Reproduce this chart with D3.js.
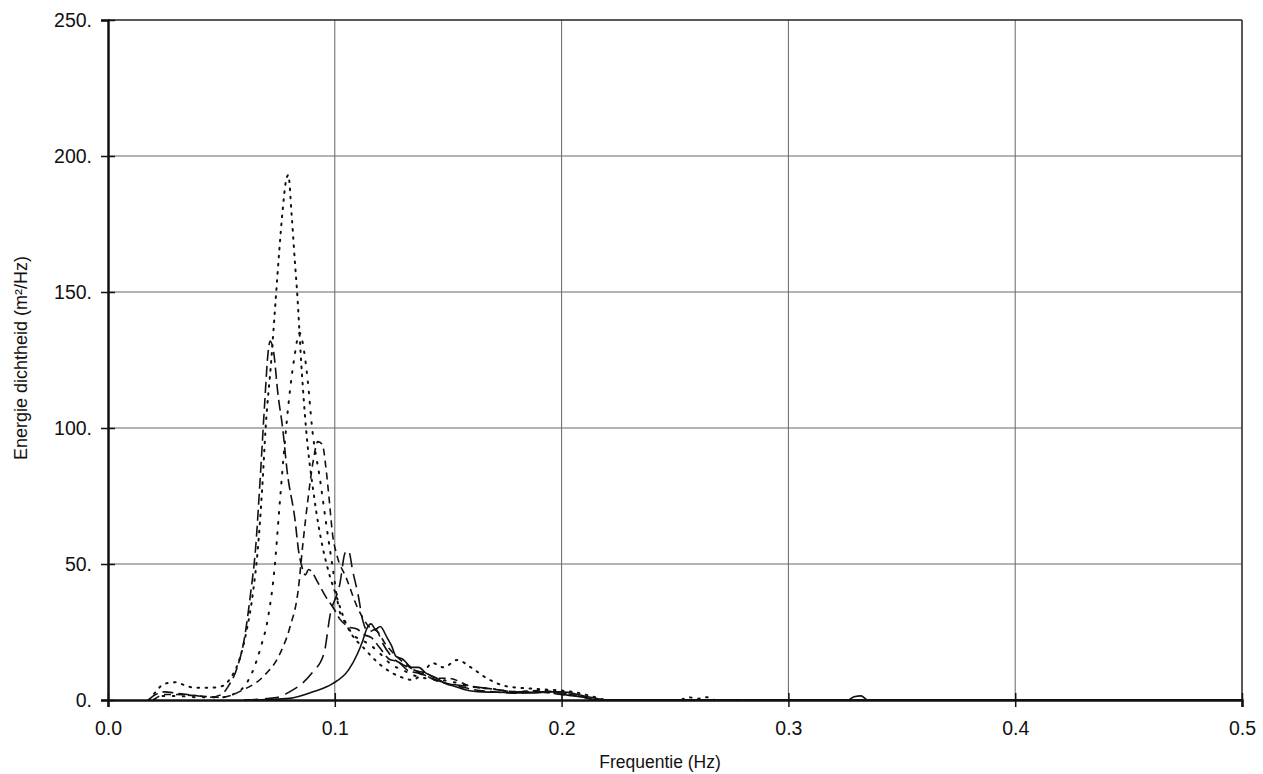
<!DOCTYPE html>
<html>
<head>
<meta charset="utf-8">
<script src="https://cdn.jsdelivr.net/npm/d3@7"></script>
<style>
  body { margin: 0; background: #fff; }
  text { font-family: "Liberation Sans", Arial, sans-serif; fill: #111; }
</style>
</head>
<body>
<div id="chart"></div>
<script>
// tick labels
var xTicks = [0, 0.1, 0.2, 0.3, 0.4, 0.5];
var xTickLabels = ["0.0", "0.1", "0.2", "0.3", "0.4", "0.5"];
var yTicks = [0, 50, 100, 150, 200, 250];
var yTickLabels = ["0.", "50.", "100.", "150.", "200.", "250."];

// spectra, [frequency, energy density]
var specA = [[0.018,0],[0.02,1.5],[0.025,3],[0.03,2.5],[0.035,2],[0.04,1.5],[0.045,1],[0.05,2],[0.053,5],[0.057,12],[0.06,22],[0.063,40],[0.065,55],[0.067,80],[0.069,108],[0.0705,127],[0.0715,132],[0.073,128],[0.075,112],[0.077,100],[0.079,84],[0.0825,66],[0.084,55],[0.0855,49],[0.087,46],[0.0885,48],[0.09,47],[0.092,44],[0.096,38],[0.1,33],[0.102,30],[0.106,27],[0.11,26],[0.113,24],[0.116,23],[0.12,19],[0.124,15],[0.128,14],[0.132,11],[0.136,10],[0.14,9],[0.145,7],[0.15,6],[0.155,5],[0.16,4],[0.17,3],[0.18,2.5],[0.19,3],[0.2,2],[0.21,1],[0.215,0],[0.5,0]];
var specB = [[0.018,0],[0.02,2],[0.025,6],[0.03,6.5],[0.035,5],[0.04,4.5],[0.045,4.5],[0.05,5],[0.054,8],[0.058,15],[0.061,25],[0.064,40],[0.066,55],[0.068,78],[0.0695,100],[0.072,125],[0.074,148],[0.0755,165],[0.077,180],[0.0785,191],[0.0795,193],[0.081,178],[0.0825,160],[0.0833,151],[0.0855,120],[0.0873,100],[0.091,74],[0.098,45],[0.1,40],[0.105,28],[0.114,18],[0.12,13],[0.129,8.5],[0.134,7.4],[0.139,10],[0.143,13.6],[0.148,12],[0.154,14.7],[0.16,12],[0.167,8],[0.176,5],[0.19,4],[0.205,3],[0.215,1],[0.22,0],[0.252,0],[0.256,1],[0.26,0.5],[0.264,1],[0.268,0],[0.5,0]];
var specC = [[0.02,0],[0.025,1.5],[0.03,1.5],[0.04,1],[0.05,1],[0.055,2],[0.059,4],[0.0635,10],[0.0672,19],[0.0705,30],[0.0735,49],[0.0755,70],[0.078,95],[0.08,112],[0.082,125],[0.0845,135],[0.0865,128],[0.088,118],[0.09,100],[0.0935,81],[0.0965,63],[0.099,49],[0.102,33],[0.105,28],[0.108,24],[0.112,22],[0.116,20],[0.12,17],[0.125,13],[0.13,11],[0.135,9],[0.14,8],[0.15,7],[0.16,5],[0.17,4],[0.18,3],[0.19,3],[0.2,2.5],[0.21,1],[0.215,0],[0.5,0]];
var specD = [[0.02,0],[0.025,2],[0.03,2],[0.04,1.5],[0.05,1],[0.0595,3.7],[0.0683,8.5],[0.0758,17],[0.0803,27],[0.0838,40],[0.086,58],[0.0882,74],[0.0905,88],[0.0925,95],[0.0945,94],[0.096,86],[0.0975,74],[0.099,61],[0.101,53],[0.105,45],[0.11,34],[0.115,27],[0.119,25],[0.122,21],[0.126,17],[0.13,14],[0.135,11],[0.14,10],[0.145,8],[0.15,8],[0.16,5],[0.17,4],[0.18,3],[0.19,3.5],[0.2,2.5],[0.21,1],[0.215,0],[0.5,0]];
var specE = [[0.06,0],[0.07,0.5],[0.075,1],[0.08,3],[0.0855,6],[0.09,10],[0.0952,17],[0.0979,31],[0.1023,43],[0.1045,54],[0.106,55],[0.108,47],[0.1102,39],[0.1124,29],[0.115,25],[0.118,26],[0.121,21],[0.125,16],[0.13,13],[0.135,11],[0.14,9],[0.15,6],[0.16,5],[0.17,4],[0.18,3],[0.19,3],[0.2,2],[0.21,1],[0.215,0],[0.5,0]];
var specF = [[0.06,0],[0.07,0.2],[0.08,0.6],[0.0904,3],[0.099,6],[0.106,11],[0.11,17],[0.1124,22],[0.114,26],[0.116,28],[0.118,26],[0.12,27],[0.123,23],[0.125,20],[0.127,16],[0.13,15],[0.134,12],[0.137,12],[0.14,10],[0.145,8],[0.149,6],[0.153,5],[0.158,3.7],[0.165,3],[0.175,2.8],[0.187,2.6],[0.195,3],[0.2,3],[0.21,1.5],[0.22,0],[0.326,0],[0.329,1.2],[0.332,1.5],[0.335,0],[0.5,0]];

var seriesList = [specF, specE, specD, specC, specB, specA];
var seriesDash = ["none", "14,7", "7,5", "1.6,8.5", "1.6,6.5", "11,5"];

// plot size, tuned to the 1263x774 window
var W = 1263, H = 774;
var margin = {top: 20, right: 21, bottom: 74, left: 108};
var width = W - margin.left - margin.right,
    height = H - margin.top - margin.bottom;

var svg = d3.select("#chart")
            .append("svg")
            .attr("width", W)
            .attr("height", H);

var g = svg.append("g")
           .attr("transform", "translate(" + margin.left + "," + margin.top + ")");

var x = d3.scaleLinear().domain([0, 0.5]).range([0, width]);
var y = d3.scaleLinear().domain([0, 250]).range([height, 0]);

// grid lines
g.append("g")
    .selectAll("line")
    .data(xTicks.slice(1, -1))
    .enter()
    .append("line")
    .attr("x1", function(d) { return x(d); })
    .attr("x2", function(d) { return x(d); })
    .attr("y1", 0)
    .attr("y2", height)
    .attr("stroke", "#666")
    .attr("stroke-width", 1);

g.append("g")
    .selectAll("line")
    .data(yTicks.slice(1, -1))
    .enter()
    .append("line")
    .attr("x1", 0)
    .attr("x2", width)
    .attr("y1", function(d) { return y(d); })
    .attr("y2", function(d) { return y(d); })
    .attr("stroke", "#666")
    .attr("stroke-width", 1);

// frame: top and right
g.append("line").attr("x1", 0).attr("x2", width).attr("y1", 0).attr("y2", 0)
    .attr("stroke", "#222").attr("stroke-width", 1.5);
g.append("line").attr("x1", width).attr("x2", width).attr("y1", 0).attr("y2", height)
    .attr("stroke", "#222").attr("stroke-width", 1.5);

// spectra
var line = d3.line()
             .x(function(d) { return x(d[0]); })
             .y(function(d) { return y(d[1]); })
             .curve(d3.curveMonotoneX);

g.selectAll(".spec")
    .data(seriesList)
    .enter()
    .append("path")
    .attr("class", "spec")
    .attr("d", line)
    .attr("fill", "none")
    .attr("stroke", "#111")
    .attr("stroke-width", function(d, i) { return i === 3 || i === 4 ? 2 : 1.6; })
    .attr("stroke-linecap", function(d, i) { return i === 3 || i === 4 ? "round" : "butt"; })
    .attr("stroke-dasharray", function(d, i) { return seriesDash[i]; });

// axes
var xAxis = g.append("g")
    .attr("transform", "translate(0," + height + ")")
    .call(d3.axisBottom(x)
            .tickValues(xTicks)
            .tickFormat(function(d, i) { return xTickLabels[i]; })
            .tickSize(7)
            .tickPadding(14));
xAxis.attr("font-size", 19.5).attr("font-family", null);
xAxis.select(".domain").attr("stroke", "#111").attr("stroke-width", 2.5);
xAxis.selectAll(".tick line").attr("y1", -7).attr("stroke", "#111").attr("stroke-width", 1.5);
xAxis.selectAll(".tick text").attr("fill", "#111");

var yAxis = g.append("g")
    .call(d3.axisLeft(y)
            .tickValues(yTicks)
            .tickFormat(function(d, i) { return yTickLabels[i]; })
            .tickSize(7)
            .tickPadding(9));
yAxis.attr("font-size", 19.5).attr("font-family", null);
yAxis.select(".domain").attr("stroke", "#111").attr("stroke-width", 2.5);
yAxis.selectAll(".tick line").attr("x1", 7).attr("stroke", "#111").attr("stroke-width", 1.5);
yAxis.selectAll(".tick text").attr("fill", "#111");

// axis titles
svg.append("text")
    .attr("text-anchor", "middle")
    .attr("x", 660)
    .attr("y", 768)
    .attr("font-size", 17.5)
    .text("Frequentie (Hz)");

svg.append("text")
    .attr("text-anchor", "middle")
    .attr("transform", "translate(27," + 358 + ") rotate(-90)")
    .attr("font-size", 18)
    .text("Energie dichtheid (m²/Hz)");
</script>
</body>
</html>
